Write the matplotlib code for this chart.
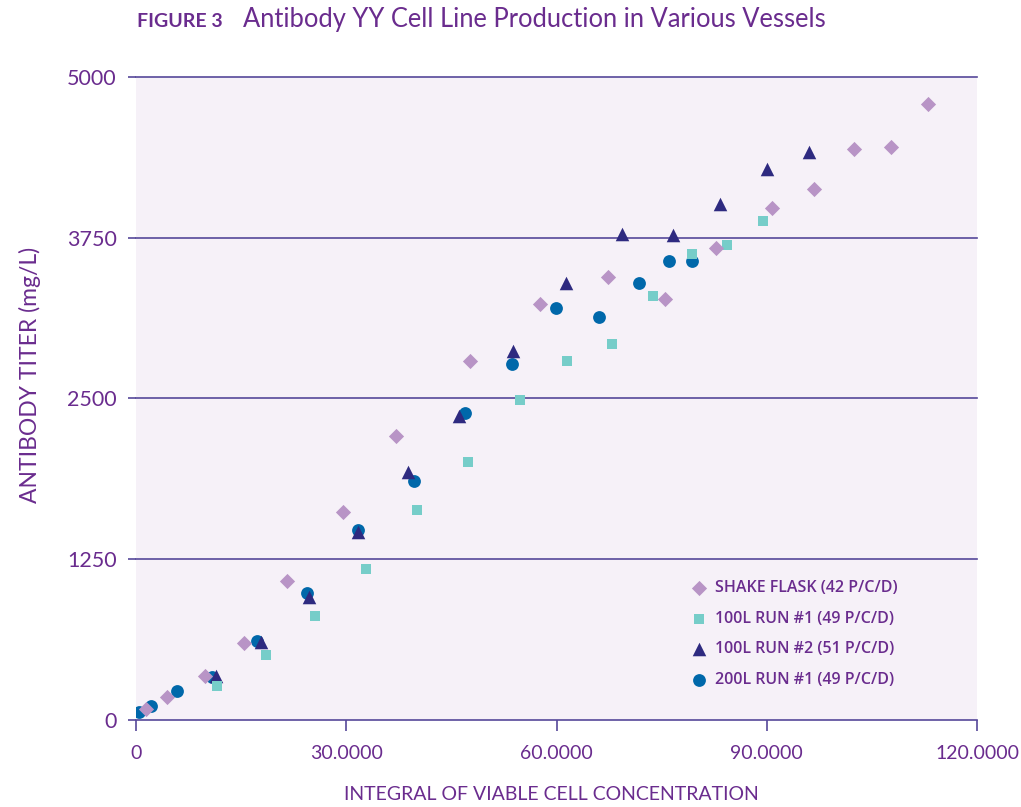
import matplotlib
matplotlib.use('Agg')
import matplotlib.pyplot as plt

# values
shake_x = [1.4, 4.4, 9.8, 15.4, 21.6, 29.5, 37.1, 47.7, 57.7, 67.4, 75.5, 82.8, 90.7, 96.8, 102.4, 107.8, 113.0]
shake_y = [85, 181, 342, 596, 1078, 1620, 2206, 2794, 3235, 3445, 3274, 3670, 3984, 4132, 4438, 4458, 4790]

run1_100_x = [11.6, 18.5, 25.6, 32.8, 40.1, 47.4, 54.8, 61.5, 67.9, 73.8, 79.4, 84.3, 89.4]
run1_100_y = [267, 508, 811, 1177, 1635, 2009, 2491, 2794, 2926, 3299, 3624, 3696, 3883]

run2_100_x = [11.4, 17.9, 24.7, 31.7, 38.8, 46.1, 53.8, 61.4, 69.4, 76.6, 83.3, 90.1, 96.0]
run2_100_y = [342, 609, 959, 1464, 1928, 2364, 2869, 3400, 3779, 3769, 4012, 4282, 4419]

run1_200_x = [0.4, 2.1, 5.9, 10.8, 17.2, 24.4, 31.7, 39.7, 46.9, 53.6, 59.9, 66.1, 71.8, 76.0, 79.3]
run1_200_y = [60, 111, 228, 337, 617, 985, 1480, 1861, 2387, 2771, 3206, 3136, 3400, 3572, 3572]

labels = ['SHAKE FLASK (42 P/C/D)', '100L RUN #1 (49 P/C/D)',
          '100L RUN #2 (51 P/C/D)', '200L RUN #1 (49 P/C/D)']
y_ticks = [0, 1250, 2500, 3750, 5000]
x_ticks = [0, 30, 60, 90, 120]
x_ticklabels = ['0', '30.0000', '60.0000', '90.0000', '120.0000']

txt = '#6a2c8e'
line = '#56489a'
plt.rcParams['font.family'] = ['Lato', 'DejaVu Sans']

W, H = 1021, 807
fig = plt.figure(figsize=(W / 100, H / 100), dpi=100)
ax = fig.add_axes([136 / W, 1 - 720 / H, (977 - 136) / W, (720 - 77) / H])
ax.set_facecolor('#f6f1f8')

ax.scatter(run1_200_x, run1_200_y, marker='o', s=85, color='#0068aa', lw=0, zorder=3, label=labels[3])
ax.scatter(run2_100_x, run2_100_y, marker='^', s=95, color='#2e2a80', lw=0, zorder=4, label=labels[2])
ax.scatter(run1_100_x, run1_100_y, marker='s', s=60, color='#76cdc9', lw=0, zorder=5, label=labels[1])
ax.scatter(shake_x, shake_y, marker='D', s=60, color='#b894c6', lw=0, zorder=6, label=labels[0])

ax.set_xlim(0, 120)
ax.set_ylim(0, 5000)
ax.set_yticks(y_ticks)
ax.set_xticks(x_ticks)
ax.set_xticklabels(x_ticklabels)
for v in y_ticks[1:]:
    ax.axhline(v, color=line, lw=1.2, zorder=1, clip_on=False)

for s in ['top', 'right', 'left']:
    ax.spines[s].set_visible(False)
ax.spines['bottom'].set_color(line)
ax.spines['bottom'].set_linewidth(1.2)
ax.tick_params(axis='x', colors=line, length=8, width=1.2, labelcolor=txt, labelsize=14, pad=10)
ax.tick_params(axis='y', colors=line, length=6, width=1.2, labelcolor=txt, labelsize=15.5, pad=8)

fig.text(551 / W, 1 - 795 / H, 'INTEGRAL OF VIABLE CELL CONCENTRATION', color=txt,
         fontsize=14, ha='center', va='center')
fig.text(30 / W, 1 - 375 / H, 'ANTIBODY TITER (mg/L)', color=txt, fontsize=16.5,
         ha='center', va='center', rotation=90)

fig.text(137 / W, 1 - 27 / H, 'FIGURE 3', color=txt, fontsize=14, fontweight='bold',
         ha='left', va='baseline')
fig.text(243 / W, 1 - 27 / H, 'Antibody YY Cell Line Production in Various Vessels',
         color=txt, fontsize=18.4, ha='left', va='baseline')

handles, labs = ax.get_legend_handles_labels()
order = [3, 2, 1, 0]
leg = ax.legend([handles[i] for i in order], [labs[i] for i in order],
                loc='upper left', bbox_to_anchor=((691 - 136) / (977 - 136), (720 - 580) / (720 - 77)),
                frameon=False, handlelength=1.0, handletextpad=0.5,
                labelspacing=0.92, borderpad=0, borderaxespad=0,
                prop={'family': ['Open Sans', 'DejaVu Sans'], 'size': 11.5, 'weight': 'semibold'})
for t in leg.get_texts():
    t.set_color(txt)

fig.savefig('out.png', dpi=100)
